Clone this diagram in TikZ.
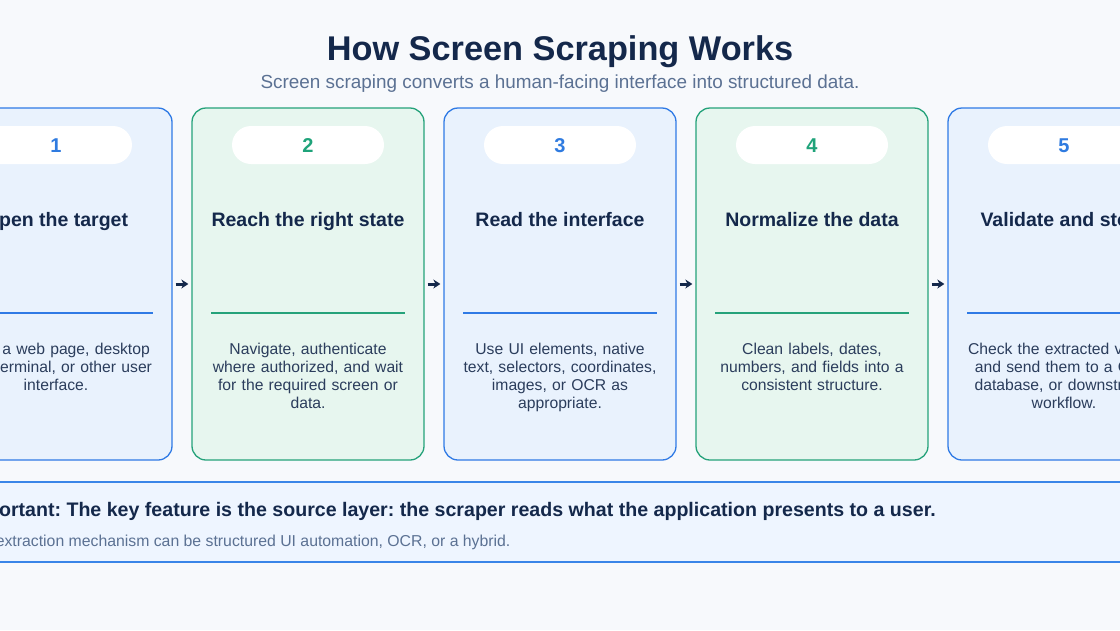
\documentclass[tikz,border=0pt]{standalone}
\usepackage{fontspec}
\setmainfont{Liberation Sans}
\usetikzlibrary{arrows.meta}
\frenchspacing
\definecolor{bg}{HTML}{F7F9FC}
\definecolor{navy}{HTML}{14284B}
\definecolor{bodytxt}{HTML}{2B3D5C}
\definecolor{subtxt}{HTML}{5B7193}
\definecolor{bblue}{HTML}{2F7AE5}
\definecolor{fblue}{HTML}{E9F2FD}
\definecolor{bgreen}{HTML}{25A27A}
\definecolor{fgreen}{HTML}{E7F6EF}
\definecolor{nblue}{HTML}{2F7BE0}
\definecolor{ngreen}{HTML}{1FA37A}
\definecolor{pfill}{HTML}{EEF5FF}
\definecolor{pline}{HTML}{3A85E8}
\tikzset{
  card/.style={draw=#1, line width=1.3pt, rounded corners=14pt, minimum width=232pt, minimum height=352pt, inner sep=0pt},
  pill/.style={fill=white, rounded corners=19pt, minimum width=152pt, minimum height=38pt, inner sep=0pt},
  numtxt/.style={text=#1, font=\fontsize{20}{24}\selectfont\bfseries, anchor=base, inner sep=0pt},
  cardtitle/.style={text=navy, font=\fontsize{19.5}{23}\selectfont\bfseries, anchor=base, inner sep=0pt},
  cardbody/.style={text=bodytxt, font=\fontsize{15.7}{18}\selectfont, align=center, text width=215pt, anchor=base, inner sep=0pt},
  divider/.style={draw=#1, line width=1.2pt},
  flow/.style={draw=navy, line width=3pt, -{Stealth[length=7pt,width=9pt]}, shorten <=3pt, shorten >=3pt},
}
\begin{document}
\begin{tikzpicture}[x=1pt,y=-1pt]
\useasboundingbox (0,0) rectangle (1120,630);
\clip (0,0) rectangle (1120,630);
\fill[bg] (0,0) rectangle (1120,630);

\node[text=navy, font=\fontsize{34.3}{40}\selectfont\bfseries, anchor=base] (title) at (560,60) {How Screen Scraping Works};
\node[text=subtxt, font=\fontsize{18.9}{22}\selectfont, anchor=base] (subtitle) at (560,88) {Screen scraping converts a human-facing interface into structured data.};

% cards
\foreach \i/\x/\bc/\fc/\nc/\ttl/\body in {
  1/56/bblue/fblue/nblue/{Open the target}/{Load a web page, desktop\\app, terminal, or other user\\interface.},
  2/308/bgreen/fgreen/ngreen/{Reach the right state}/{Navigate, authenticate\\where authorized, and wait\\for the required screen or\\data.},
  3/560/bblue/fblue/nblue/{Read the interface}/{Use UI elements, native\\text, selectors, coordinates,\\images, or OCR as\\appropriate.},
  4/812/bgreen/fgreen/ngreen/{Normalize the data}/{Clean labels, dates,\\numbers, and fields into a\\consistent structure.},
  5/1064/bblue/fblue/nblue/{Validate and store}/{Check the extracted values\\and send them to a CSV,\\database, or downstream\\workflow.}} {
  \node[card=\bc, fill=\fc] (c\i) at (\x,284) {};
  \node[pill] (p\i) at (\x,145) {};
  \node[numtxt=\nc] (n\i) at (\x,152) {\i};
  \node[cardtitle] (t\i) at (\x,226) {\ttl};
  \coordinate (dl\i) at (\x-97,313);
  \coordinate (dr\i) at (\x+97,313);
  \draw[divider=\bc] (dl\i) -- (dr\i);
  \node[cardbody] (b\i) at (\x,354) {\body};
}
\foreach \a/\b in {1/2,2/3,3/4,4/5} {
  \draw[flow] (c\a.east) -- (c\b.west);
}

% bottom panel
\fill[pfill] (-60,482) rectangle (1180,562);
\coordinate (pl1) at (-60,482); \coordinate (pr1) at (1180,482);
\coordinate (pl2) at (-60,562); \coordinate (pr2) at (1180,562);
\draw[pline, line width=1.5pt] (pl1) -- (pr1);
\draw[pline, line width=1.5pt] (pl2) -- (pr2);
\node[text=navy, font=\fontsize{19.6}{23}\selectfont\bfseries, anchor=base west, inner sep=0pt] (imp) at (-36,516) {Important: The key feature is the source layer: the scraper reads what the application presents to a user.};
\node[text=subtxt, font=\fontsize{15.8}{19}\selectfont, anchor=base west, inner sep=0pt] (mech) at (-36,546) {The extraction mechanism can be structured UI automation, OCR, or a hybrid.};
\end{tikzpicture}
\end{document}
